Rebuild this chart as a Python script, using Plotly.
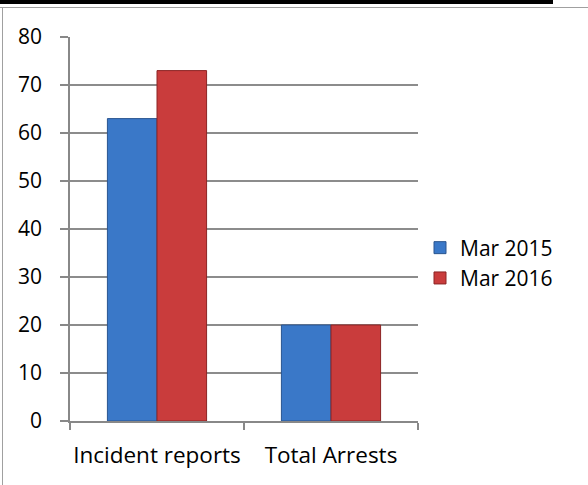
import plotly.graph_objects as go

categories = ["Incident reports", "Total Arrests"]
series_names = ["Mar 2015", "Mar 2016"]
mar2015 = [63, 20]
mar2016 = [73, 20]
y_ticks = [0, 10, 20, 30, 40, 50, 60, 70, 80]

W, H = 588, 485
L, R, T, B = 70, 170, 37, 64
pw, ph = W - L - R, H - T - B

def px_x(p):
    return (p - L) / pw

def px_y(p):
    return (H - B - p) / ph

fig = go.Figure()
fig.add_trace(go.Bar(x=categories, y=mar2015, name=series_names[0],
                     marker=dict(color="#3a78c8", line=dict(color="#2a5590", width=1))))
fig.add_trace(go.Bar(x=categories, y=mar2016, name=series_names[1],
                     marker=dict(color="#c93c3c", line=dict(color="#8c2424", width=1))))

font = "'Open Sans', Lato, sans-serif"
fig.update_layout(
    width=W, height=H,
    margin=dict(l=L, r=R, t=T, b=B, autoexpand=False),
    paper_bgcolor="white", plot_bgcolor="white",
    barmode="group", bargap=0.43, bargroupgap=0,
    font=dict(family=font, size=21, color="black"),
    legend=dict(x=px_x(420), y=px_y(263), xanchor="left", yanchor="middle",
                font=dict(size=21), itemwidth=30, tracegroupgap=0),
    xaxis=dict(showgrid=False, showline=True, linecolor="#888888", linewidth=1.5,
               ticks="outside", tickson="boundaries", ticklen=7, tickcolor="#888888",
               tickwidth=1.5, ticklabelstandoff=13, tickfont=dict(size=22.5),
               tickangle=0, automargin=False),
    yaxis=dict(range=[0, 80], tickvals=y_ticks, showgrid=True, gridcolor="#8c8c8c",
               gridwidth=1.5, showline=True, linecolor="#888888", linewidth=1.5,
               ticks="outside", ticklen=8, tickcolor="#888888", tickwidth=1.5,
               ticklabelstandoff=14, zeroline=False, tickfont=dict(size=21),
               automargin=False),
    shapes=[
        dict(type="line", xref="paper", yref="paper", x0=px_x(0), x1=px_x(553),
             y0=px_y(2), y1=px_y(2), line=dict(color="black", width=4)),
        dict(type="line", xref="paper", yref="paper", x0=px_x(0), x1=px_x(588),
             y0=px_y(7.5), y1=px_y(7.5), line=dict(color="#a0a0a0", width=1)),
        dict(type="line", xref="paper", yref="paper", x0=px_x(2.5), x1=px_x(2.5),
             y0=px_y(7.5), y1=px_y(485), line=dict(color="#a0a0a0", width=1)),
    ],
)

fig.write_html("out.html")
